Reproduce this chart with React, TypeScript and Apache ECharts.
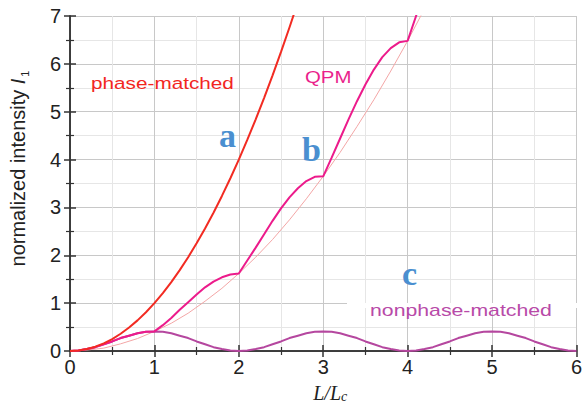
import React, { useEffect, useRef } from "react";
import * as echarts from "echarts";

// phase-matched curve (a)
const pmX = [0, 0.1, 0.2, 0.3, 0.4, 0.5, 0.6, 0.7, 0.8, 0.9, 1.0, 1.1, 1.2, 1.3, 1.4, 1.5, 1.6, 1.7, 1.8, 1.9, 2.0, 2.1, 2.2, 2.3, 2.4, 2.5, 2.6, 2.7];
const pmY = [0, 0.01, 0.04, 0.09, 0.16, 0.25, 0.36, 0.49, 0.64, 0.81, 1.0, 1.21, 1.44, 1.69, 1.96, 2.25, 2.56, 2.89, 3.24, 3.61, 4.0, 4.41, 4.84, 5.29, 5.76, 6.25, 6.76, 7.29];

// QPM curve (b)
const qpmX = [0, 0.1, 0.2, 0.3, 0.4, 0.5, 0.6, 0.7, 0.8, 0.9,
  1.0, 1.1, 1.2, 1.3, 1.4, 1.5, 1.6, 1.7, 1.8, 1.9,
  2.0, 2.1, 2.2, 2.3, 2.4, 2.5, 2.6, 2.7, 2.8, 2.9,
  3.0, 3.1, 3.2, 3.3, 3.4, 3.5, 3.6, 3.7, 3.8, 3.9,
  4.0, 4.1, 4.2];
const qpmY = [0, 0.01, 0.04, 0.08, 0.14, 0.2, 0.27, 0.32, 0.37, 0.4,
  0.41, 0.54, 0.69, 0.86, 1.02, 1.18, 1.33, 1.45, 1.54, 1.6,
  1.62, 1.89, 2.16, 2.44, 2.72, 2.98, 3.21, 3.4, 3.55, 3.64,
  3.65, 4.04, 4.44, 4.84, 5.22, 5.57, 5.88, 6.14, 6.33, 6.45,
  6.48, 7.0, 7.53];

// thin reference curve under QPM
const refX = [0, 0.2, 0.4, 0.6, 0.8, 1.0, 1.2, 1.4, 1.6, 1.8, 2.0, 2.2, 2.4, 2.6, 2.8, 3.0, 3.2, 3.4, 3.6, 3.8, 4.0, 4.2];
const refY = [0, 0.02, 0.06, 0.15, 0.26, 0.41, 0.58, 0.79, 1.04, 1.31, 1.62, 1.96, 2.33, 2.74, 3.18, 3.65, 4.15, 4.69, 5.25, 5.85, 6.48, 7.15];

// nonphase-matched curve (c)
const npmX = [0, 0.1, 0.2, 0.3, 0.4, 0.5, 0.6, 0.7, 0.8, 0.9,
  1.0, 1.1, 1.2, 1.3, 1.4, 1.5, 1.6, 1.7, 1.8, 1.9,
  2.0, 2.1, 2.2, 2.3, 2.4, 2.5, 2.6, 2.7, 2.8, 2.9,
  3.0, 3.1, 3.2, 3.3, 3.4, 3.5, 3.6, 3.7, 3.8, 3.9,
  4.0, 4.1, 4.2, 4.3, 4.4, 4.5, 4.6, 4.7, 4.8, 4.9,
  5.0, 5.1, 5.2, 5.3, 5.4, 5.5, 5.6, 5.7, 5.8, 5.9, 6.0];
const npmY = [0, 0.01, 0.04, 0.08, 0.14, 0.2, 0.27, 0.32, 0.37, 0.4,
  0.41, 0.4, 0.37, 0.32, 0.27, 0.2, 0.14, 0.08, 0.04, 0.01,
  0, 0.01, 0.04, 0.08, 0.14, 0.2, 0.27, 0.32, 0.37, 0.4,
  0.41, 0.4, 0.37, 0.32, 0.27, 0.2, 0.14, 0.08, 0.04, 0.01,
  0, 0.01, 0.04, 0.08, 0.14, 0.2, 0.27, 0.32, 0.37, 0.4,
  0.41, 0.4, 0.37, 0.32, 0.27, 0.2, 0.14, 0.08, 0.04, 0.01, 0];

const xTicks = ["0", "1", "2", "3", "4", "5", "6"];
const yTicks = ["0", "1", "2", "3", "4", "5", "6", "7"];

const zip = (xs: number[], ys: number[]) => xs.map((x, i) => [x, ys[i]]);

export default function App() {
  const ref = useRef<HTMLDivElement>(null);
  useEffect(() => {
    const chart = echarts.init(ref.current!, null, { renderer: "svg" });
    const tickFont = { fontFamily: "Liberation Sans, Arial", fontSize: 20, color: "#222" };
    const axisLine = { show: true, lineStyle: { color: "#333", width: 1.5 } };
    const tick = { show: true, inside: true, length: 6, lineStyle: { color: "#333", width: 1.5 } };
    const minorTick = { show: true, splitNumber: 2, length: 4, lineStyle: { color: "#333", width: 1.2 } };
    const labelFont = "17px 'Liberation Sans', Arial";
    const letterFont = "bold 34px 'Liberation Serif', serif";
    chart.setOption({
      animation: false,
      backgroundColor: "#fff",
      grid: { left: 69, right: 6, top: 16, bottom: 54, containLabel: false },
      xAxis: [
        {
          type: "value", min: 0, max: 6, interval: 1, position: "bottom",
          axisLine, axisTick: tick, minorTick,
          axisLabel: { ...tickFont, margin: 6, formatter: (v: number) => xTicks[Math.round(v)] ?? "" },
          splitLine: { show: true, lineStyle: { color: "#c8c8c8", width: 1 } },
          minorSplitLine: { show: true, lineStyle: { color: "#e6e6e6", width: 1 } },
          name: "{i|L/L}{s|c}",
          nameLocation: "middle",
          nameGap: 30,
          nameTextStyle: {
            padding: [0, 0, 0, 14],
            rich: {
              i: { fontFamily: "Liberation Serif", fontStyle: "italic", fontSize: 20, color: "#222", lineHeight: 22, verticalAlign: "bottom" },
              s: { fontFamily: "Liberation Serif", fontStyle: "italic", fontSize: 14, color: "#222", lineHeight: 22, verticalAlign: "bottom", padding: [7, 0, 0, 0] },
            },
          },
        },
        {
          type: "value", min: 0, max: 6, interval: 1, position: "top",
          axisLine, axisTick: tick, minorTick,
          axisLabel: { show: false }, splitLine: { show: false },
        },
      ],
      yAxis: [
        {
          type: "value", min: 0, max: 7, interval: 1, position: "left",
          axisLine, axisTick: tick, minorTick,
          axisLabel: { ...tickFont, margin: 9, formatter: (v: number) => yTicks[Math.round(v)] ?? "" },
          splitLine: { show: true, lineStyle: { color: "#c8c8c8", width: 1 } },
          minorSplitLine: { show: true, lineStyle: { color: "#e6e6e6", width: 1 } },
          name: "{a|normalized intensity }{i|I}{s|1}",
          nameLocation: "middle",
          nameRotate: 90,
          nameGap: 40,
          nameTextStyle: {
            padding: [0, 0, 0, 30],
            rich: {
              a: { fontFamily: "Liberation Sans, Arial", fontSize: 20, color: "#222", lineHeight: 24 },
              i: { fontFamily: "Liberation Sans, Arial", fontStyle: "italic", fontSize: 20, color: "#222", lineHeight: 24 },
              s: { fontFamily: "Liberation Sans, Arial", fontSize: 11, color: "#222", lineHeight: 24, verticalAlign: "bottom", padding: [8, 0, 0, 2] },
            },
          },
        },
        {
          type: "value", min: 0, max: 7, interval: 1, position: "right",
          axisLine, axisTick: tick, minorTick,
          axisLabel: { show: false }, splitLine: { show: false },
        },
      ],
      graphic: [
        { type: "rect", z: 1, shape: { x: 347, y: 303, width: 231, height: 5 }, style: { fill: "#fff" } },
        { type: "text", z: 10, x: 91, y: 75, scaleX: 1.22, style: { text: "phase-matched", fill: "#f2261e", font: labelFont } },
        { type: "text", z: 10, x: 305, y: 69, scaleX: 1.2, style: { text: "QPM", fill: "#ea1f8c", font: labelFont } },
        { type: "text", z: 10, x: 370, y: 302, scaleX: 1.25, style: { text: "nonphase-matched", fill: "#b84aa8", font: labelFont } },
        { type: "text", z: 10, x: 219, y: 118, style: { text: "a", fill: "#4a8fd0", font: letterFont } },
        { type: "text", z: 10, x: 302, y: 132, style: { text: "b", fill: "#4a8fd0", font: letterFont } },
        { type: "text", z: 10, x: 402, y: 256, style: { text: "c", fill: "#4a8fd0", font: letterFont } },
      ],
      series: [
        { type: "line", name: "ref", data: zip(refX, refY), showSymbol: false, lineStyle: { color: "#f3a6a6", width: 1 }, z: 2 },
        { type: "line", name: "nonphase-matched", data: zip(npmX, npmY), showSymbol: false, lineStyle: { color: "#b5479f", width: 2 }, z: 3 },
        { type: "line", name: "QPM", data: zip(qpmX, qpmY), showSymbol: false, lineStyle: { color: "#ec1b8b", width: 2 }, z: 4 },
        { type: "line", name: "phase-matched", data: zip(pmX, pmY), showSymbol: false, lineStyle: { color: "#f22b22", width: 2 }, z: 5 },
      ],
    });
    return () => chart.dispose();
  }, []);
  return <div ref={ref} style={{ position: "fixed", left: 0, top: 0, width: 585, height: 408 }} />;
}
